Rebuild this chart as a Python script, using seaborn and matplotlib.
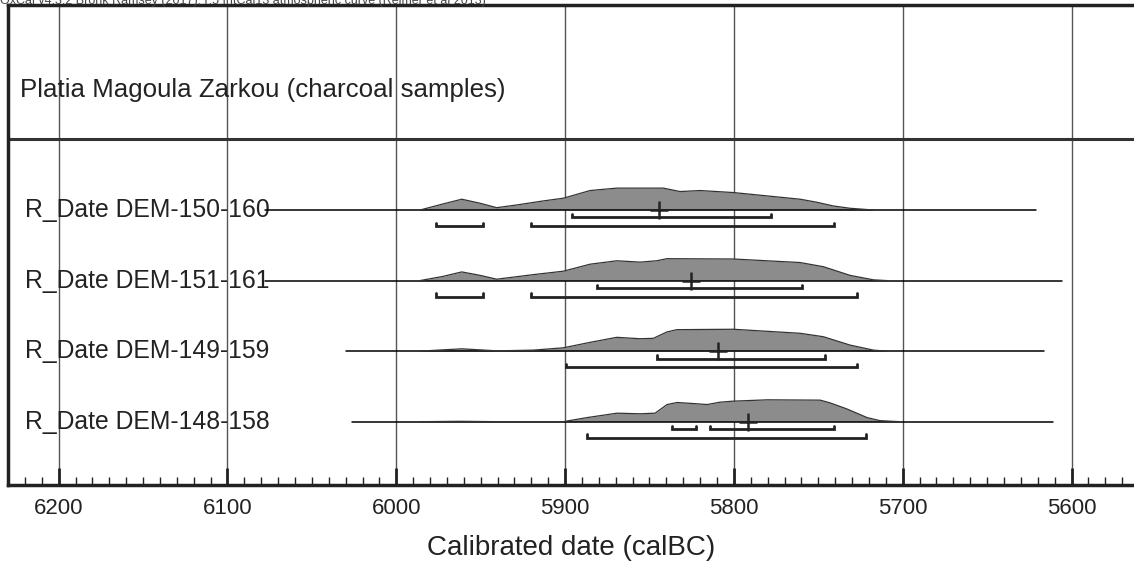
import numpy as np
import pandas as pd
import seaborn as sns
import matplotlib.pyplot as plt

# DATA (calBC years, relative probability)
TITLE = "Platia Magoula Zarkou (charcoal samples)"
HEADER = "OxCal v4.3.2 Bronk Ramsey (2017); r:5 IntCal13 atmospheric curve (Reimer et al 2013)"
labels = ["R_Date DEM-150-160", "R_Date DEM-151-161", "R_Date DEM-149-159", "R_Date DEM-148-158"]

years_150 = [5985.9, 5972.3, 5961.2, 5950.4, 5940.5, 5928.6, 5912.9, 5901.0, 5885.2, 5869.4,
             5841.8, 5831.9, 5820.0, 5800.3, 5780.5, 5760.8, 5750.9, 5741.1, 5731.2, 5717.4]
prob_150 = [0, 6, 10.7, 6.7, 2.3, 5, 9, 11.7, 19.3, 21.7,
            21.7, 18.3, 19.3, 17.3, 14, 10.7, 7.7, 4, 1.7, 0]

years_151 = [5985.9, 5972.3, 5961.2, 5950.4, 5940.5, 5918.8, 5901.0, 5885.2, 5869.4, 5855.6,
             5845.7, 5839.7, 5800.3, 5760.8, 5747.0, 5731.2, 5717.4, 5709.4]
prob_151 = [0, 4, 8.3, 5, 1.3, 5.7, 9, 15.7, 19, 17.7,
            19, 21, 20.7, 17.3, 13.3, 5, 0.7, 0]

years_149 = [5985.9, 5961.2, 5940.5, 5918.8, 5901.0, 5885.2, 5869.4, 5855.6, 5847.7, 5839.7,
             5833.8, 5800.3, 5760.8, 5747.0, 5731.2, 5717.4, 5709.4]
prob_149 = [0, 2.3, 0.3, 1, 3.3, 8.7, 13.7, 12.3, 12.7, 19,
            21.3, 21.7, 17.7, 14.3, 6, 1, 0]

years_148 = [5985.9, 5962.2, 5938.5, 5901.2, 5887.0, 5869.2, 5855.6, 5846.7, 5839.6, 5833.6,
             5824.2, 5815.9, 5808.2, 5800.5, 5780.3, 5748.9, 5743.0, 5732.9, 5721.1, 5713.4, 5701.5]
prob_148 = [0, 0.4, 0, 0, 4, 8.3, 7.7, 8.3, 16.7, 18.7,
            17.7, 16.7, 19, 20, 21.3, 21, 18.3, 12.3, 4, 1, 0]

# extent of the thin line drawn under each distribution
line_start = [6078, 6078, 6030, 6026]
line_end = [5621, 5605.6, 5616.2, 5610.9]

# 68.2% and 95.4% ranges, mean
range68 = [[(5895.9, 5778.1)], [(5881.0, 5759.8)], [(5845.6, 5746.2)],
           [(5836.7, 5822.5), (5814.2, 5740.8)]]
range95 = [[(5976.3, 5948.5), (5920.1, 5740.8)], [(5976.3, 5948.5), (5920.1, 5727.2)],
           [(5899.4, 5727.2)], [(5887.0, 5721.9)]]
means = [5844.4, 5825.4, 5809.5, 5791.7]

dens = [(years_150, prob_150), (years_151, prob_151), (years_149, prob_149), (years_148, prob_148)]

#-------------------------
# PLOT
#-------------------------
sns.set_style("white")
plt.rcParams['font.family'] = ['Liberation Sans', 'DejaVu Sans']
INK = "#222222"

fig = plt.figure(figsize=(11.34, 5.64), dpi=100)
ax = fig.add_axes([8 / 1134, 79 / 564, 1 - 8 / 1134, 480 / 564])

H = 0.31  # height of tallest distribution in row units
for i, (yrs, p) in enumerate(dens):
    p = np.array(p) / max(p)
    ax.plot([line_start[i], line_end[i]], [i, i], color="black", lw=1.1, zorder=3)
    ax.fill_between(yrs, i, i - p * H, color="#8c8c8c", lw=0, zorder=2)
    df = pd.DataFrame({"year": yrs, "y": i - p * H})
    sns.lineplot(data=df, x="year", y="y", color="#333333", lw=0.9, ax=ax, sort=False, zorder=3)

    for lo, hi in range68[i]:
        ax.plot([lo, lo, hi, hi], [i + 0.06, i + 0.106, i + 0.106, i + 0.06],
                color=INK, lw=2, solid_joinstyle="miter", zorder=4)
    for lo, hi in range95[i]:
        ax.plot([lo, lo, hi, hi], [i + 0.18, i + 0.227, i + 0.227, i + 0.18],
                color=INK, lw=2, solid_joinstyle="miter", zorder=4)
    ax.plot(means[i], i, marker="+", ms=13, mew=1.8, color=INK, zorder=5)

    ax.text(0.015, i, labels[i], transform=ax.get_yaxis_transform(), va="center", ha="left",
            fontsize=17.8, color=INK, zorder=1)

ax.text(0.011, -1.70, TITLE, transform=ax.get_yaxis_transform(), va="center", ha="left",
        fontsize=18.6, color=INK)
ax.axhline(-1.0, color="#333333", lw=2.2, zorder=1)

ax.set_xlim(6230, 5563)
ax.set_ylim(3.897, -2.905)
ax.set_xticks(np.arange(5600, 6201, 100))
ax.set_xticks(np.arange(5570, 6231, 10), minor=True)
ax.grid(axis="x", which="major", color="#555555", lw=1.0)
ax.set_yticks([])
ax.set_ylabel("")
ax.tick_params(axis="x", which="major", direction="in", length=12, width=2, pad=9,
               labelsize=16, colors=INK, bottom=True)
ax.tick_params(axis="x", which="minor", direction="in", length=6, width=1, bottom=True,
               colors=INK)
ax.set_xlabel("Calibrated date (calBC)", fontsize=20, color=INK, labelpad=12)

for s in ["left", "top", "bottom"]:
    ax.spines[s].set_linewidth(2.5)
    ax.spines[s].set_color(INK)
ax.spines["right"].set_visible(False)

fig.text(0.0, 1 - 4 / 564, HEADER, fontsize=9, color="#444444", ha="left", va="baseline")

fig.savefig("out.png", dpi=100)
